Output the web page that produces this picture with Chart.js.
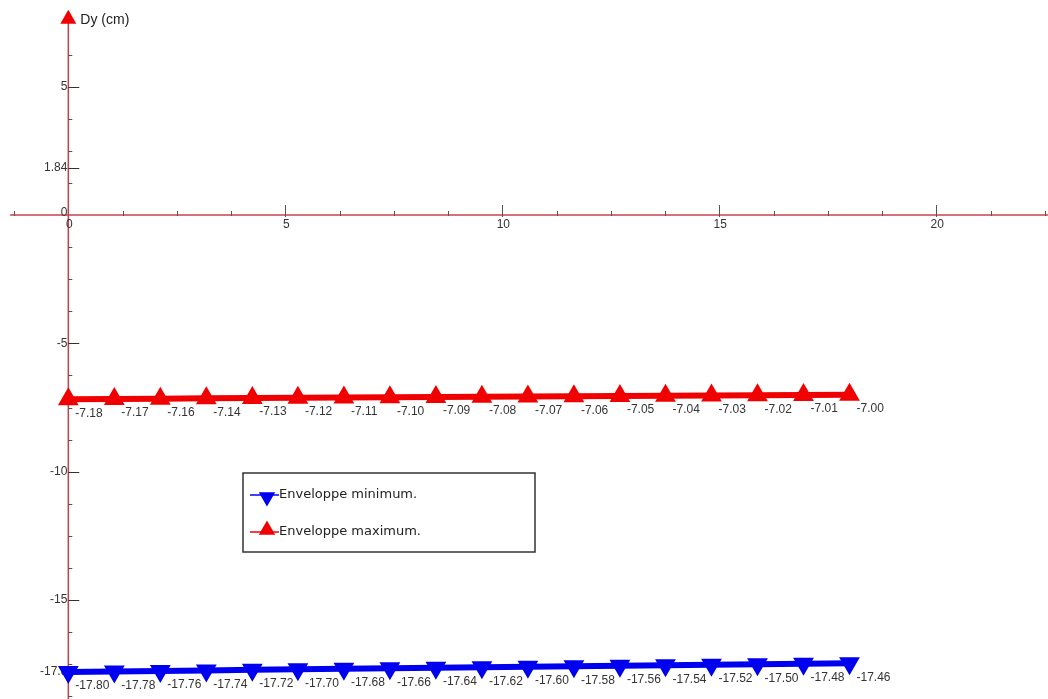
<!DOCTYPE html>
<html>
<head>
<meta charset="utf-8">
<title>Dy (cm)</title>
<script src="https://cdn.jsdelivr.net/npm/chart.js@4.4.0/dist/chart.umd.min.js"></script>
<style>
  html, body { margin: 0; padding: 0; background: #fff; }
  canvas { display: block; }
</style>
</head>
<body>
<canvas id="chart" width="1048" height="699"></canvas>
<script>
// abscisses des points (18 points de 0 a 18)
const positions = [0, 1.06, 2.12, 3.18, 4.24, 5.29, 6.35, 7.41, 8.47, 9.53, 10.59, 11.65, 12.71, 13.76, 14.82, 15.88, 16.94, 18.0];

// enveloppes Dy (cm)
const envMin = [-17.80, -17.78, -17.76, -17.74, -17.72, -17.70, -17.68, -17.66, -17.64, -17.62, -17.60, -17.58, -17.56, -17.54, -17.52, -17.50, -17.48, -17.46];
const envMax = [-7.18, -7.17, -7.16, -7.14, -7.13, -7.12, -7.11, -7.10, -7.09, -7.08, -7.07, -7.06, -7.05, -7.04, -7.03, -7.02, -7.01, -7.00];

// graduations
const xTicks = [0, 5, 10, 15, 20];
const yTicks = [5, 1.84, 0, -5, -10, -15, -17.8];
const yTickLabels = ["5", "1.84", "0", "-5", "-10", "-15", "-17.8"];
const minorStep = 1.25;

const seriesNames = ["Enveloppe minimum.", "Enveloppe maximum."];
const axisTitle = "Dy (cm)";

const RED = "#f00000";
const BLUE = "#0000f0";
const AXIS = "#c8404e";
const LABEL_FONT = "12px 'Liberation Sans', Arial, sans-serif";

function toPoints(values) {
  return values.map((v, i) => ({ x: positions[i], y: v }));
}

// axes dessines a la main (origine au centre)
const axesPlugin = {
  id: "axes",
  beforeDatasetsDraw(chart) {
    const { ctx } = chart;
    const xs = chart.scales.x;
    const ys = chart.scales.y;
    const x0 = xs.getPixelForValue(0);
    const y0 = ys.getPixelForValue(0);

    ctx.save();
    // axe x
    ctx.strokeStyle = AXIS;
    ctx.lineWidth = 1.5;
    ctx.beginPath();
    ctx.moveTo(xs.getPixelForValue(-1.34), y0);
    ctx.lineTo(chart.width, y0);
    ctx.stroke();

    // axe y
    ctx.beginPath();
    ctx.moveTo(x0, ys.getPixelForValue(7.6));
    ctx.lineTo(x0, chart.height);
    ctx.stroke();

    // petites graduations x
    ctx.strokeStyle = "#555";
    ctx.lineWidth = 1;
    for (let v = -minorStep; v <= 22.5; v += minorStep) {
      if (Math.abs(v) < 1e-6) continue;
      const px = Math.round(xs.getPixelForValue(v)) + 0.5;
      const major = Math.abs(v % 5) < 1e-6;
      ctx.beginPath();
      ctx.moveTo(px, y0 + (major ? 2 : 1));
      ctx.lineTo(px, y0 - (major ? 10 : 4));
      ctx.stroke();
    }

    // petites graduations y
    for (let v = 6.25; v >= -18.75; v -= minorStep) {
      if (Math.abs(v) < 1e-6) continue;
      const py = Math.round(ys.getPixelForValue(v)) + 0.5;
      const major = Math.abs(v % 5) < 1e-6;
      ctx.strokeStyle = major ? "#333" : "#555";
      ctx.beginPath();
      ctx.moveTo(x0, py);
      ctx.lineTo(x0 + (major ? 11 : 4), py);
      ctx.stroke();
    }
    // graduation speciale 1.84
    const p184 = Math.round(ys.getPixelForValue(1.84)) + 0.5;
    ctx.strokeStyle = "#333";
    ctx.beginPath();
    ctx.moveTo(x0, p184);
    ctx.lineTo(x0 + 11, p184);
    ctx.stroke();

    // etiquettes
    ctx.fillStyle = "#333";
    ctx.font = LABEL_FONT;
    ctx.textAlign = "center";
    ctx.textBaseline = "top";
    xTicks.forEach((v) => {
      ctx.fillText(String(v), xs.getPixelForValue(v) + 1, y0 + 4);
    });
    ctx.textAlign = "right";
    ctx.textBaseline = "middle";
    yTicks.forEach((v, i) => {
      ctx.fillText(yTickLabels[i], x0 - 1, ys.getPixelForValue(v) - (v === 0 ? 2 : 0));
    });

    // fleche + titre
    ctx.fillStyle = RED;
    const top = ys.getPixelForValue(8.0);
    ctx.beginPath();
    ctx.moveTo(x0, top);
    ctx.lineTo(x0 + 8, top + 14);
    ctx.lineTo(x0 - 8, top + 14);
    ctx.closePath();
    ctx.fill();
    ctx.fillStyle = "#222";
    ctx.font = "14px 'Liberation Sans', Arial, sans-serif";
    ctx.textAlign = "left";
    ctx.fillText(axisTitle, x0 + 12, top + 10);
    ctx.restore();
  },
  afterDatasetsDraw(chart) {
    const { ctx } = chart;
    ctx.save();
    // valeurs sous chaque point
    ctx.fillStyle = "#333";
    ctx.font = LABEL_FONT;
    ctx.textAlign = "left";
    ctx.textBaseline = "middle";
    chart.data.datasets.forEach((ds, di) => {
      chart.getDatasetMeta(di).data.forEach((pt, i) => {
        ctx.fillText(ds.data[i].y.toFixed(2), pt.x + 7, pt.y + 14);
      });
    });

    // legende encadree
    const bx = 243, by = 473, bw = 292, bh = 79;
    ctx.fillStyle = "#fff";
    ctx.fillRect(bx, by, bw, bh);
    ctx.strokeStyle = "#333";
    ctx.lineWidth = 1.5;
    ctx.strokeRect(bx, by, bw, bh);
    ctx.font = "13px 'DejaVu Sans', Verdana, sans-serif";
    chart.data.datasets.forEach((ds, di) => {
      const ly = di === 0 ? 495 : 532;
      ctx.strokeStyle = ds.borderColor;
      ctx.lineWidth = 1.5;
      ctx.beginPath();
      ctx.moveTo(250, ly);
      ctx.lineTo(279, ly);
      ctx.stroke();
      Chart.helpers.drawPoint(ctx, {
        pointStyle: "triangle",
        rotation: ds.pointRotation,
        radius: 8,
        borderWidth: 1
      }, 267, ly + (di === 0 ? 2 : -2));
      ctx.fillStyle = ds.pointBackgroundColor;
      ctx.fill();
      ctx.fillStyle = "#222";
      ctx.fillText(ds.label, 279, ly);
    });
    ctx.restore();
  }
};

new Chart(document.getElementById("chart"), {
  type: "line",
  data: {
    datasets: [
      {
        label: seriesNames[0],
        data: toPoints(envMin),
        borderColor: BLUE,
        backgroundColor: BLUE,
        pointBackgroundColor: BLUE,
        pointBorderColor: BLUE,
        borderWidth: 6,
        pointStyle: "triangle",
        pointRotation: 180,
        pointRadius: 10,
        pointBorderWidth: 2,
        tension: 0
      },
      {
        label: seriesNames[1],
        data: toPoints(envMax),
        borderColor: RED,
        backgroundColor: RED,
        pointBackgroundColor: RED,
        pointBorderColor: RED,
        borderWidth: 6,
        pointStyle: "triangle",
        pointRotation: 0,
        pointRadius: 10,
        pointBorderWidth: 2,
        tension: 0
      }
    ]
  },
  options: {
    responsive: false,
    animation: false,
    layout: { padding: 0, autoPadding: false },
    scales: {
      x: { type: "linear", min: -1.574, max: 22.574, display: false },
      y: { type: "linear", min: -18.855, max: 8.376, display: false }
    },
    plugins: {
      legend: { display: false },
      tooltip: { enabled: false }
    }
  },
  plugins: [axesPlugin]
});
</script>
</body>
</html>
